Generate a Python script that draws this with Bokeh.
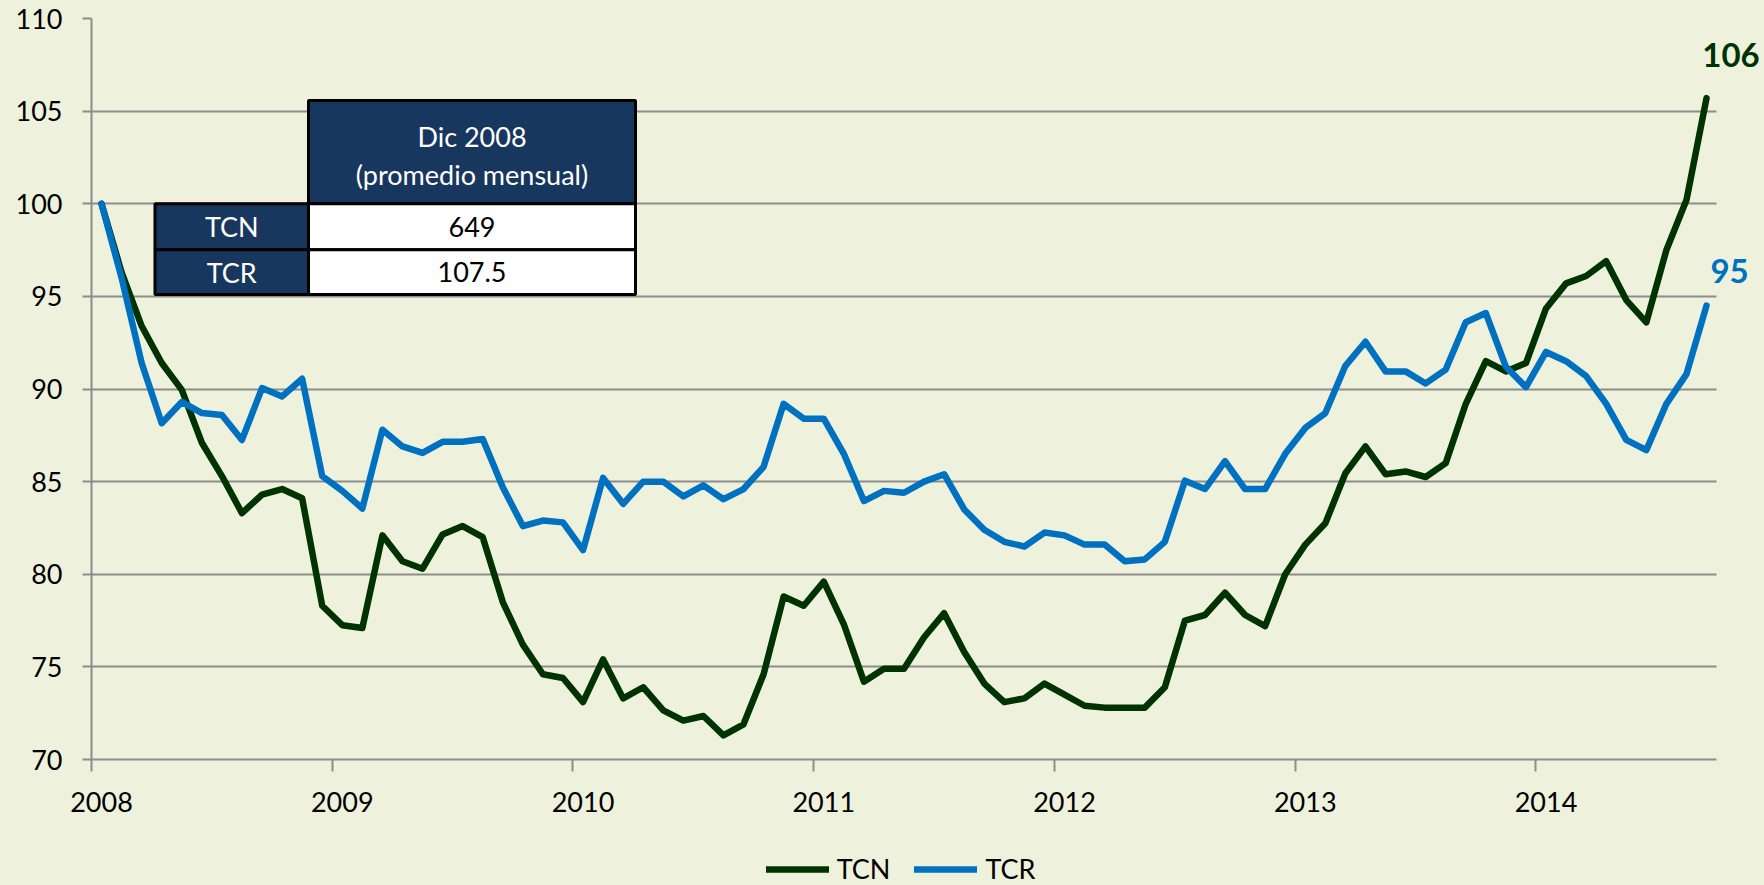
from bokeh.plotting import figure
from bokeh.layouts import column
from bokeh.models import Range1d, FixedTicker, LinearAxis, Legend, LegendItem, Label
from bokeh.core.properties import value
from bokeh.embed import file_html
from bokeh.resources import INLINE

# ---------------- data ----------------
# monthly index, Jan 2008 (=0) .. Sep 2014 (=80)
months = list(range(81))
year_labels = ["2008", "2009", "2010", "2011", "2012", "2013", "2014"]
year_starts = [0, 12, 24, 36, 48, 60, 72]
y_ticks = [70, 75, 80, 85, 90, 95, 100, 105, 110]
series_names = ["TCN", "TCR"]

tcn = [100.0, 96.3, 93.4, 91.4, 89.95, 87.1, 85.3, 83.3, 84.3, 84.6, 84.1, 78.3,
       77.25, 77.1, 82.1, 80.7, 80.3, 82.15, 82.6, 82.0, 78.5, 76.2, 74.6, 74.4,
       73.1, 75.4, 73.3, 73.9, 72.65, 72.1, 72.35, 71.3, 71.9, 74.6, 78.8, 78.3,
       79.6, 77.3, 74.2, 74.9, 74.9, 76.6, 77.9, 75.8, 74.1, 73.1, 73.3, 74.1,
       73.5, 72.9, 72.8, 72.8, 72.8, 73.9, 77.5, 77.8, 79.0, 77.8, 77.2, 80.0,
       81.6, 82.75, 85.45, 86.9, 85.4, 85.55, 85.25, 86.0, 89.2, 91.5, 90.95, 91.4,
       94.35, 95.7, 96.1, 96.9, 94.8, 93.6, 97.5, 100.2, 105.7]

tcr = [100.0, 96.0, 91.4, 88.15, 89.3, 88.7, 88.6, 87.25, 90.05, 89.6, 90.55, 85.3,
       84.5, 83.55, 87.8, 86.9, 86.55, 87.15, 87.15, 87.3, 84.7, 82.6, 82.9, 82.8,
       81.3, 85.2, 83.8, 85.0, 85.0, 84.2, 84.8, 84.05, 84.6, 85.8, 89.2, 88.4,
       88.4, 86.5, 83.95, 84.5, 84.4, 85.0, 85.4, 83.5, 82.4, 81.75, 81.5, 82.25,
       82.1, 81.6, 81.6, 80.7, 80.8, 81.75, 85.05, 84.6, 86.1, 84.6, 84.6, 86.5,
       87.9, 88.7, 91.25, 92.55, 90.95, 90.95, 90.3, 91.05, 93.6, 94.1, 91.2, 90.1,
       92.0, 91.5, 90.7, 89.2, 87.25, 86.7, 89.2, 90.8, 94.5]

table_header = ["Dic 2008", "(promedio mensual)"]
table_rows = ["TCN", "TCR"]
table_values = ["649", "107.5"]

# ---------------- style ----------------
BG = "#EEF2DC"
GRID = "#8C8C8C"
GREEN = "#003300"
BLUE = "#0070C0"
NAVY = "#17375E"
FONT = "Lato"
LW = 6.5

X0, X1 = -0.5, len(months) - 0.5      # plotted category span

p = figure(width=1764, height=830,
           x_range=Range1d(X0, 82.89), y_range=Range1d(70, 110),
           output_backend="svg", toolbar_location=None,
           min_border_left=91, min_border_right=0, min_border_top=18, min_border_bottom=71,
           background_fill_color=BG, border_fill_color=BG, outline_line_color=None)

# y axis & grid
p.yaxis.ticker = FixedTicker(ticks=y_ticks)
p.yaxis.axis_line_color = GRID
p.yaxis.axis_line_width = 2
p.yaxis.major_tick_line_color = GRID
p.yaxis.major_tick_line_width = 2
p.yaxis.major_tick_in = 0
p.yaxis.major_tick_out = 9
p.yaxis.minor_tick_line_color = None
p.yaxis.major_label_text_font = FONT
p.yaxis.major_label_text_font_size = "27px"
p.yaxis.major_label_text_color = "#000000"
p.yaxis.major_label_standoff = 20
p.ygrid.ticker = FixedTicker(ticks=y_ticks)
p.ygrid.grid_line_color = GRID
p.ygrid.grid_line_width = 2
p.ygrid[0].cross_bounds = (X0, X1)
p.xgrid.grid_line_color = None

# x axis: tick marks at year boundaries
p.xaxis.bounds = (X0, X1)
p.xaxis.ticker = FixedTicker(ticks=[s - 0.5 for s in year_starts])
p.xaxis.axis_line_color = GRID
p.xaxis.axis_line_width = 2
p.xaxis.major_tick_line_color = GRID
p.xaxis.major_tick_line_width = 2
p.xaxis.major_tick_in = 0
p.xaxis.major_tick_out = 12
p.xaxis.minor_tick_line_color = None
p.xaxis.minor_tick_out = 0
p.xaxis.major_label_text_font_size = "1px"
p.xaxis.major_label_text_color = None
p.xaxis.major_label_standoff = 0

# x axis: year labels centred on January
ax_lab = LinearAxis(ticker=FixedTicker(ticks=year_starts), bounds=(X0, X1),
                    major_label_overrides={s: l for s, l in zip(year_starts, year_labels)},
                    axis_line_color=None, major_tick_line_color=None, minor_tick_line_color=None,
                    major_tick_in=0, major_tick_out=0, minor_tick_out=0,
                    major_label_text_font=FONT, major_label_text_font_size="27px",
                    major_label_text_color="#000000", major_label_standoff=20)
p.add_layout(ax_lab, "below")

# lines
p.line(months, tcn, line_width=LW, color=GREEN, line_join="round", line_cap="round")
p.line(months, tcr, line_width=LW, color=BLUE, line_join="round", line_cap="round")

# end labels
p.add_layout(Label(x=months[-1], y=tcn[-1], text=str(int(tcn[-1] + 0.5)),
                   x_offset=24.5, y_offset=43, text_align="center", text_baseline="middle",
                   text_font=FONT, text_font_style="bold", text_font_size="33px", text_color=GREEN))
p.add_layout(Label(x=months[-1], y=tcr[-1], text=str(int(tcr[-1] + 0.5)),
                   x_offset=23, y_offset=34.6, text_align="center", text_baseline="middle",
                   text_font=FONT, text_font_style="bold", text_font_size="33px", text_color=BLUE))

# inset table (layout in data units)
TX = [2.665, 10.316, 26.616]
TY = [105.574, 100.0, 97.514, 95.101]
p.quad(left=[TX[1]], right=[TX[2]], top=[TY[0]], bottom=[TY[1]],
       fill_color=NAVY, line_color="black", line_width=3)
p.quad(left=[TX[0]] * 2, right=[TX[1]] * 2, top=TY[1:3], bottom=TY[2:4],
       fill_color=NAVY, line_color="black", line_width=3)
p.quad(left=[TX[1]] * 2, right=[TX[2]] * 2, top=TY[1:3], bottom=TY[2:4],
       fill_color="white", line_color="black", line_width=3)

cx_val = (TX[1] + TX[2]) / 2
cx_lab = (TX[0] + TX[1]) / 2
hh = TY[0] - TY[1]
p.text(x=[cx_val, cx_val], y=[TY[0] - 0.35 * hh, TY[0] - 0.72 * hh], text=table_header,
       text_font=value(FONT), text_font_size=value("27px"), text_color="white",
       text_align="center", text_baseline="middle")
row_c = [(TY[1] + TY[2]) / 2, (TY[2] + TY[3]) / 2]
p.text(x=[cx_lab] * 2, y=row_c, text=table_rows,
       text_font=value(FONT), text_font_size=value("27px"), text_color="white",
       text_align="center", text_baseline="middle")
p.text(x=[cx_val] * 2, y=row_c, text=table_values,
       text_font=value(FONT), text_font_size=value("27px"), text_color="black",
       text_align="center", text_baseline="middle")

# legend strip below the chart; keys are styled like the two series
q = figure(width=1764, height=55, x_range=Range1d(0, 1), y_range=Range1d(0, 1),
           x_axis_type=None, y_axis_type=None, output_backend="svg", toolbar_location=None,
           min_border=0, background_fill_color=BG, border_fill_color=BG, outline_line_color=None)
k_tcn = q.line(x=[months[-1]], y=[tcn[-1]], line_width=LW, color=GREEN, line_cap="round")
k_tcr = q.line(x=[months[-1]], y=[tcr[-1]], line_width=LW, color=BLUE, line_cap="round")
legend = Legend(items=[LegendItem(label=series_names[0], renderers=[k_tcn]),
                       LegendItem(label=series_names[1], renderers=[k_tcr])],
                orientation="horizontal", location=(674.7, 0),
                label_text_font=FONT, label_text_font_size="27px", label_text_color="black",
                glyph_width=63, glyph_height=30, label_height=30, label_standoff=8,
                spacing=24, padding=0, margin=0,
                background_fill_alpha=0, border_line_color=None)
q.add_layout(legend)

page = column(p, q, spacing=0, styles={"background-color": BG})
open("out.html", "w").write(file_html(page, INLINE))
